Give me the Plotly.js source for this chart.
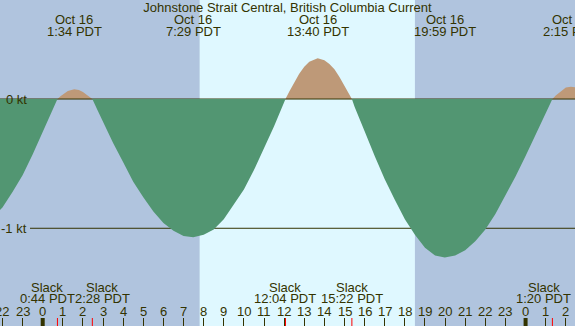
<!DOCTYPE html>
<html><head><meta charset="utf-8">
<script src="https://cdn.plot.ly/plotly-3.0.1.min.js"></script>
<style>html,body{margin:0;padding:0;background:#b0c4de;}#chart{width:575px;height:326px;}</style>
</head><body><div id="chart"></div>
<script>
// Time in hours since Oct 16 00:00 PDT, current in knots
const hours = [-2.5,-2.0,-1.5,-1.0,-0.5,0.0,0.5,0.733,0.9,1.0,1.25,1.567,1.8,2.0,2.25,2.467,2.75,3.0,3.5,4.0,4.5,5.0,5.5,6.0,6.5,7.0,7.483,8.0,8.5,9.0,9.5,10.0,10.5,11.0,11.5,12.067,12.25,12.5,12.75,13.0,13.25,13.667,14.0,14.25,14.5,14.75,15.0,15.2,15.367,15.5,15.75,16.0,16.5,17.0,17.5,18.0,18.5,19.0,19.5,19.983,20.5,21.0,21.5,22.0,22.5,23.0,23.5,24.0,24.5,25.0,25.333,25.5,26.0,26.25,26.5];
const knots = [-0.92,-0.84,-0.72,-0.59,-0.43,-0.26,-0.08,0,0.023,0.036,0.062,0.075,0.069,0.055,0.028,0,-0.095,-0.18,-0.34,-0.49,-0.64,-0.76,-0.87,-0.96,-1.02,-1.06,-1.07,-1.05,-1.01,-0.93,-0.82,-0.70,-0.55,-0.38,-0.21,0,0.056,0.13,0.196,0.25,0.289,0.315,0.30,0.27,0.23,0.17,0.105,0.048,0,-0.06,-0.16,-0.25,-0.44,-0.62,-0.78,-0.93,-1.05,-1.15,-1.21,-1.227,-1.21,-1.17,-1.10,-1.01,-0.89,-0.75,-0.60,-0.44,-0.28,-0.11,0,0.028,0.09,0.095,0.09];

const eventTimes = [1.567, 7.483, 13.667, 19.983, 26.25];
const eventDates = ["Oct 16","Oct 16","Oct 16","Oct 16","Oct 17"];
const eventLabels = ["1:34 PDT","7:29 PDT","13:40 PDT","19:59 PDT","2:15 PDT"];
const slackTimes = [0.733, 2.467, 12.067, 15.367, 25.333];
const slackLabels = ["0:44 PDT","2:28 PDT","12:04 PDT","15:22 PDT","1:20 PDT"];
const tickHours = [-2,-1,0,1,2,3,4,5,6,7,8,9,10,11,12,13,14,15,16,17,18,19,20,21,22,23,24,25,26];
const tickText = ["22","23","0","1","2","3","4","5","6","7","8","9","10","11","12","13","14","15","16","17","18","19","20","21","22","23","0","1","2"];
const midnights = [0, 24];
const daylight = [7.80, 18.50];
const ktLevels = [0, -1];
const ktLabels = ["0 kt", "-1 kt"];

const W = 575, H = 326;
const TXT = '#333300';
const FONT = 'Liberation Sans, Arial, sans-serif';
const FS = 13;
const NIGHT = '#b0c4de', DAY = '#dff8ff';
const GREEN = '#529672', TAN = '#be9978';
const py = p => 1 - p / H;
const f = {family: FONT, size: FS, color: TXT};
// pixel nudges that keep neighbouring slack labels apart (as in the reference)
const slackNudge = [-10, 10, 0, 0, -8.5];

const pos = knots.map(v => Math.max(v, 0));
const neg = knots.map(v => Math.min(v, 0));

const traces = [
  {x: hours, y: pos, type: 'scatter', mode: 'lines', fill: 'tozeroy', fillcolor: TAN,
   line: {width: 0, color: 'rgba(0,0,0,0)'}, hoverinfo: 'skip'},
  {x: [hours[0], hours[hours.length-1]], y: [0, 0], type: 'scatter', mode: 'lines',
   line: {width: 1, color: TXT}, hoverinfo: 'skip'},
  {x: hours, y: neg, type: 'scatter', mode: 'lines', fill: 'tozeroy', fillcolor: GREEN,
   line: {width: 0, color: 'rgba(0,0,0,0)'}, hoverinfo: 'skip'}
];

const annotations = [];
eventTimes.forEach((t, i) => {
  annotations.push({x: t, xref: 'x', y: py(19.5), yref: 'paper', text: eventDates[i], showarrow: false,
    xanchor: 'center', yanchor: 'middle', font: f});
  annotations.push({x: t, xref: 'x', y: py(31.5), yref: 'paper', text: eventLabels[i], showarrow: false,
    xanchor: 'center', yanchor: 'middle', font: f});
});
slackTimes.forEach((t, i) => {
  annotations.push({x: t, xref: 'x', y: py(287.5), yref: 'paper', text: 'Slack', showarrow: false,
    xanchor: 'center', yanchor: 'middle', xshift: slackNudge[i], font: f});
  annotations.push({x: t, xref: 'x', y: py(298.5), yref: 'paper', text: slackLabels[i], showarrow: false,
    xanchor: 'center', yanchor: 'middle', xshift: slackNudge[i], font: f});
});
tickHours.forEach((t, i) => {
  annotations.push({x: t, xref: 'x', y: py(311), yref: 'paper', text: tickText[i], showarrow: false,
    xanchor: 'center', yanchor: 'middle', font: f});
});
ktLevels.forEach((k, i) => {
  annotations.push({x: 28.5 / W, xref: 'paper', y: k, yref: 'y', text: ktLabels[i], showarrow: false,
    xanchor: 'right', yanchor: 'middle', font: f});
});

const shapes = [
  {type: 'rect', layer: 'below', xref: 'x', yref: 'paper', x0: daylight[0], x1: daylight[1], y0: 0, y1: 1,
   fillcolor: DAY, line: {width: 0}},
  {type: 'line', layer: 'below', xref: 'paper', yref: 'y', x0: 30 / W, x1: 1, y0: -1, y1: -1,
   line: {color: TXT, width: 1}}
];
midnights.forEach(t => shapes.push({type: 'line', layer: 'above', xref: 'x', yref: 'paper',
  x0: t, x1: t, y0: 0, y1: 8 / H, line: {color: TXT, width: 4}}));
slackTimes.forEach(t => shapes.push({type: 'line', layer: 'above', xref: 'x', yref: 'paper',
  x0: t, x1: t, y0: 0, y1: 8 / H, line: {color: '#ff0000', width: 1}}));

const layout = {
  width: W, height: H,
  margin: {l: 0, r: 0, t: 0, b: 0, pad: 0},
  paper_bgcolor: NIGHT, plot_bgcolor: NIGHT,
  showlegend: false,
  font: f,
  title: {text: 'Johnstone Strait Central, British Columbia Current', x: 0.5, xanchor: 'center',
    y: py(7.5), yanchor: 'middle', yref: 'container', font: f},
  xaxis: {range: [-2.122, 26.456], tickvals: tickHours, ticks: 'inside', ticklen: 8,
    tickcolor: TXT, tickwidth: 1, showticklabels: false, showgrid: false, zeroline: false,
    showline: false, fixedrange: true},
  yaxis: {range: [-1.756, 0.766], showticklabels: false, ticks: '',
    showgrid: false, zeroline: false, showline: false, fixedrange: true},
  annotations: annotations,
  shapes: shapes
};

Plotly.newPlot('chart', traces, layout, {displayModeBar: false, staticPlot: true});
</script>
</body></html>
